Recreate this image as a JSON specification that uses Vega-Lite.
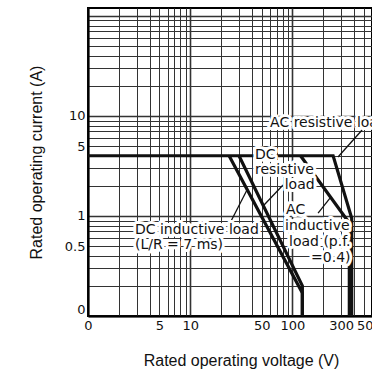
{
  "$schema": "https://vega.github.io/schema/vega-lite/v6.json",
  "width": 284,
  "height": 308,
  "autosize": {"type": "none"},
  "padding": {"left": 88, "top": 8, "right": 0, "bottom": 59},
  "background": "white",
  "config": {
    "font": "Liberation Sans",
    "view": {"stroke": "#000", "strokeWidth": 2}
  },
  "datasets": {
    "curves": [
      {"series": "AC resistive", "k": 0, "V": 1, "I": 4},
      {"series": "AC resistive", "k": 1, "V": 250, "I": 4},
      {"series": "AC resistive", "k": 2, "V": 380, "I": 0.95},
      {"series": "AC resistive", "k": 3, "V": 380, "I": 0.1},
      {"series": "AC inductive", "k": 0, "V": 120, "I": 4},
      {"series": "AC inductive", "k": 1, "V": 360, "I": 0.85},
      {"series": "AC inductive", "k": 2, "V": 360, "I": 0.1},
      {"series": "DC resistive", "k": 0, "V": 30, "I": 4},
      {"series": "DC resistive", "k": 1, "V": 125, "I": 0.2},
      {"series": "DC resistive", "k": 2, "V": 125, "I": 0.1},
      {"series": "DC inductive", "k": 0, "V": 24, "I": 4},
      {"series": "DC inductive", "k": 1, "V": 125, "I": 0.17},
      {"series": "DC inductive", "k": 2, "V": 125, "I": 0.1}
    ],
    "callouts": [
      {"V": 25.1, "I": 0.89, "V2": 35.9, "I2": 1.82},
      {"V": 80.9, "I": 2.04, "V2": 51.6, "I2": 1.26},
      {"V": 480, "I": 7.24, "V2": 279, "I2": 3.89},
      {"V": 178, "I": 1.07, "V2": 233, "I2": 1.51}
    ],
    "notes": [
      {"V": 60.4, "I": 8.5, "text": "AC resistive load"},
      {"V": 43, "I": 4.07, "text": "DC"},
      {"V": 43, "I": 2.88, "text": "resistive"},
      {"V": 84, "I": 2.04, "text": "load"},
      {"V": 2.88, "I": 0.724, "text": "DC inductive load"},
      {"V": 2.88, "I": 0.513, "text": "(L/R = 7 ms)"},
      {"V": 86.6, "I": 1.15, "text": "AC"},
      {"V": 84.7, "I": 0.794, "text": "inductive"},
      {"V": 92.6, "I": 0.55, "text": "load (p.f."},
      {"V": 152, "I": 0.38, "text": "=0.4)"}
    ]
  },
  "encoding": {
    "x": {
      "field": "V",
      "type": "quantitative",
      "scale": {"type": "log", "domain": [1, 600], "nice": false, "zero": false},
      "axis": {
        "title": "Rated operating voltage (V)",
        "titleFont": "Liberation Sans",
        "titleFontSize": 16,
        "titleFontWeight": "normal",
        "titleColor": "#111",
        "titlePadding": 20,
        "titleX": 153,
        "values": [1, 2, 3, 4, 5, 6, 7, 8, 9, 10, 20, 30, 40, 50, 60, 70, 80, 90, 100, 200, 300, 400, 500, 600],
        "labelExpr": "datum.value == 1 ? '0' : (indexof([5, 10, 50, 100, 300, 500], datum.value) >= 0 ? format(datum.value, 'd') : '')",
        "labelFont": "DejaVu Sans",
        "labelFontSize": 13,
        "labelColor": "#111",
        "labelPadding": 3,
        "labelOffset": {"condition": {"test": "datum.value == 500", "value": 5}, "value": 0},
        "labelOverlap": false,
        "labelFlush": false,
        "labelBound": false,
        "ticks": false,
        "domainColor": "#000",
        "domainWidth": 2,
        "grid": true,
        "gridColor": "#333",
        "gridOpacity": 1,
        "gridWidth": {"condition": {"test": "indexof([1, 10, 100], datum.value) >= 0", "value": 1.6}, "value": 1}
      }
    },
    "y": {
      "field": "I",
      "type": "quantitative",
      "scale": {"type": "log", "domain": [0.1, 120], "nice": false, "zero": false},
      "axis": {
        "title": "Rated operating current (A)",
        "titleFont": "Liberation Sans",
        "titleFontSize": 16,
        "titleFontWeight": "normal",
        "titleColor": "#111",
        "titlePadding": 20,
        "values": [0.1, 0.2, 0.3, 0.4, 0.5, 0.6, 0.7, 0.8, 0.9, 1, 2, 3, 4, 5, 6, 7, 8, 9, 10, 20, 30, 40, 50, 60, 70, 80, 90, 100],
        "labelExpr": "datum.value == 0.1 ? '0' : (indexof([0.5, 1, 5, 10], datum.value) >= 0 ? format(datum.value, '~g') : '')",
        "labelFont": "DejaVu Sans",
        "labelFontSize": 13,
        "labelColor": "#111",
        "labelPadding": 3,
        "labelOverlap": false,
        "labelFlush": true,
        "labelBound": false,
        "ticks": false,
        "domainColor": "#000",
        "domainWidth": 2,
        "grid": true,
        "gridColor": "#333",
        "gridOpacity": 1,
        "gridWidth": {"condition": {"test": "indexof([0.1, 1, 10, 100], datum.value) >= 0", "value": 1.6}, "value": 1}
      }
    }
  },
  "layer": [
    {
      "data": {"name": "curves"},
      "mark": {"type": "line", "color": "#111", "strokeWidth": 3.2, "strokeJoin": "miter"},
      "encoding": {
        "detail": {"field": "series"},
        "order": {"field": "k", "type": "quantitative"}
      }
    },
    {
      "data": {"name": "callouts"},
      "mark": {"type": "rule", "color": "#111", "strokeWidth": 1.3},
      "encoding": {
        "x2": {"field": "V2"},
        "y2": {"field": "I2"}
      }
    },
    {
      "data": {"name": "notes"},
      "mark": {"type": "text", "align": "left", "baseline": "middle", "font": "DejaVu Sans", "fontSize": 14, "fill": "white", "stroke": "white", "strokeWidth": 6, "strokeJoin": "round"},
      "encoding": {"text": {"field": "text"}}
    },
    {
      "data": {"name": "notes"},
      "mark": {"type": "text", "align": "left", "baseline": "middle", "font": "DejaVu Sans", "fontSize": 14, "fill": "#111"},
      "encoding": {"text": {"field": "text"}}
    }
  ]
}
